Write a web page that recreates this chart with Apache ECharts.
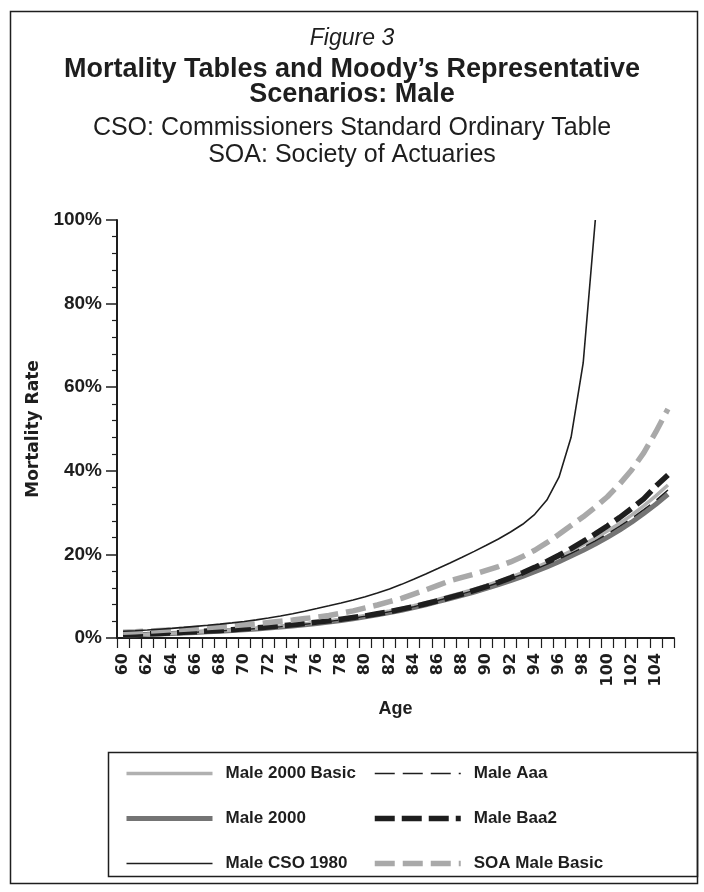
<!DOCTYPE html>
<html>
<head>
<meta charset="utf-8">
<script src="https://cdn.jsdelivr.net/npm/echarts@6/dist/echarts.min.js"></script>
<style>
html,body{margin:0;padding:0;background:#fff;}
#chart{width:704px;height:892px;}
</style>
</head>
<body>
<div id="chart"></div>
<script>
// ---- data (mortality rate, %) ----
const ages = [60,61,62,63,64,65,66,67,68,69,70,71,72,73,74,75,76,77,78,79,80,81,82,83,84,85,86,87,88,89,90,91,92,93,94,95,96,97,98,99,100,101,102,103,104,105];

const male2000Basic = [0.75,0.83,0.92,1.03,1.15,1.28,1.42,1.57,1.73,1.91,2.10,2.31,2.54,2.80,3.08,3.38,3.71,4.07,4.46,4.90,5.38,5.90,6.47,7.08,7.75,8.47,9.25,10.05,10.85,11.70,12.60,13.55,14.55,15.65,16.80,18.05,19.40,20.80,22.30,23.90,25.60,27.40,29.40,31.60,34.00,36.60];

const male2000 = [0.70,0.78,0.87,0.97,1.08,1.20,1.33,1.47,1.62,1.79,1.97,2.17,2.39,2.63,2.89,3.17,3.48,3.82,4.19,4.60,5.05,5.54,6.07,6.65,7.28,7.96,8.70,9.45,10.20,11.00,11.85,12.75,13.70,14.75,15.85,17.00,18.25,19.60,21.00,22.50,24.10,25.80,27.70,29.80,32.00,34.40];

const maleCSO1980 = [1.61,1.75,1.92,2.11,2.31,2.54,2.79,3.04,3.32,3.62,3.95,4.33,4.77,5.26,5.82,6.42,7.05,7.71,8.39,9.10,9.88,10.75,11.73,12.83,14.03,15.30,16.61,17.96,19.33,20.73,22.18,23.70,25.35,27.21,29.59,33.00,38.46,48.02,65.80,100.00];

const maleAaa = [0.72,0.80,0.89,0.99,1.11,1.23,1.37,1.51,1.67,1.84,2.03,2.23,2.46,2.71,2.98,3.27,3.59,3.94,4.32,4.74,5.20,5.71,6.26,6.85,7.50,8.20,8.95,9.75,10.55,11.40,12.25,13.20,14.20,15.25,16.40,17.60,18.90,20.25,21.70,23.25,24.90,26.70,28.60,30.70,32.90,35.40];

const maleBaa2 = [0.80,0.90,1.00,1.10,1.20,1.35,1.50,1.65,1.80,2.00,2.20,2.40,2.65,2.90,3.15,3.45,3.80,4.10,4.50,4.90,5.30,5.80,6.30,6.90,7.50,8.20,8.90,9.70,10.50,11.40,12.30,13.30,14.40,15.60,16.90,18.30,19.80,21.40,23.10,24.90,26.80,28.80,31.00,33.30,36.30,39.00];

const soaMaleBasic = [1.40,1.50,1.65,1.80,1.95,2.10,2.30,2.50,2.70,2.90,3.15,3.40,3.70,4.00,4.30,4.65,5.00,5.40,5.90,6.50,7.20,7.90,8.70,9.50,10.50,11.50,12.60,13.70,14.50,15.30,16.20,17.10,18.20,19.50,21.00,22.80,24.80,26.90,29.00,31.30,33.80,36.80,40.20,44.30,49.30,54.80];

const yTicks = [0,20,40,60,80,100];

const titleLines = ['Figure 3', 'Mortality Tables and Moody\u2019s Representative', 'Scenarios: Male', 'CSO: Commissioners Standard Ordinary Table', 'SOA: Society of Actuaries'];
const legendCol1 = ['Male 2000 Basic', 'Male 2000', 'Male CSO 1980'];
const legendCol2 = ['Male Aaa', 'Male Baa2', 'SOA Male Basic'];

// ---- chart ----
const FONT = '"Liberation Sans", Arial, Helvetica, sans-serif';
const WFONT = '"DejaVu Sans", "Liberation Sans", sans-serif';
const INK = '#1e1e1e';

const chart = echarts.init(document.getElementById('chart'), null, {renderer: 'canvas'});

function titleItem(text, centerY, size, weight, style) {
  const lh = size + 2;
  return {
    text: text, left: 'center', top: centerY - lh / 2, padding: 0,
    textStyle: {fontFamily: FONT, fontSize: size, fontWeight: weight, fontStyle: style || 'normal', color: INK, lineHeight: lh}
  };
}

const lineSeries = (name, data, color, width, dash) => ({
  name: name, type: 'line', data: data, symbol: 'none', showSymbol: false,
  lineStyle: {color: color, width: width, type: dash || 'solid', cap: 'butt'},
  itemStyle: {color: color},
  emphasis: {disabled: true}, animation: false
});

const legendText = {fontFamily: FONT, fontSize: 17, fontWeight: 'bold', color: INK, lineHeight: 17, padding: [0, 0, 0, 8]};

const legendBase = {
  orient: 'vertical', top: 765, itemWidth: 86, itemHeight: 16, itemGap: 28,
  textStyle: legendText, selectedMode: false, padding: 0,
  lineStyle: {width: 'inherit', type: 'inherit'},
  itemStyle: {opacity: 0, borderWidth: 0}
};

const option = {
  backgroundColor: '#fff',
  animation: false,
  title: [
    titleItem(titleLines[0], 39, 23, 'normal', 'italic'),
    titleItem(titleLines[1], 70, 27, 'bold'),
    titleItem(titleLines[2], 95, 27, 'bold'),
    titleItem(titleLines[3], 128, 25, 'normal'),
    titleItem(titleLines[4], 155, 25, 'normal')
  ],
  graphic: [
    {type: 'rect', shape: {x: 10.5, y: 11.5, width: 687, height: 872}, style: {fill: 'none', stroke: INK, lineWidth: 1.5}, z: -1, silent: true},
    {type: 'rect', shape: {x: 108.5, y: 752.5, width: 589, height: 124}, style: {fill: 'none', stroke: INK, lineWidth: 1.5}, z: -1, silent: true}
  ],
  legend: [
    Object.assign({}, legendBase, {data: legendCol1, left: 124}),
    Object.assign({}, legendBase, {data: legendCol2, left: 372})
  ],
  grid: {left: 117, right: 30, top: 220, bottom: 254, containLabel: false},
  xAxis: {
    type: 'category', data: ages, boundaryGap: true,
    name: 'Age', nameLocation: 'middle', nameGap: 62,
    nameTextStyle: {fontFamily: FONT, fontSize: 18, fontWeight: 'bold', color: INK},
    axisLine: {show: true, lineStyle: {color: INK, width: 2}},
    axisTick: {show: true, interval: 0, length: 10, lineStyle: {color: INK, width: 1.2}},
    axisLabel: {interval: 1, rotate: 90, margin: 15, fontFamily: WFONT, fontSize: 16, fontWeight: 'bold', color: INK},
    splitLine: {show: false}
  },
  yAxis: {
    type: 'value', min: yTicks[0], max: yTicks[yTicks.length - 1], interval: 20,
    name: 'Mortality Rate', nameLocation: 'middle', nameGap: 73, nameRotate: 90,
    nameTextStyle: {fontFamily: WFONT, fontSize: 17, fontWeight: 'bold', color: INK},
    axisLine: {show: true, lineStyle: {color: INK, width: 2}},
    axisTick: {show: true, length: 11, lineStyle: {color: INK, width: 1.5}},
    minorTick: {show: true, splitNumber: 5, length: 5, lineStyle: {color: INK, width: 1.2}},
    axisLabel: {formatter: '{value}%', margin: 15, fontFamily: FONT, fontSize: 19, fontWeight: 'bold', color: INK},
    splitLine: {show: false}, minorSplitLine: {show: false}
  },
  series: [
    lineSeries('Male 2000', male2000, '#747474', 5),
    lineSeries('Male 2000 Basic', male2000Basic, '#b0b0b0', 3.5),
    lineSeries('Male Aaa', maleAaa, INK, 1.5, [20, 8]),
    lineSeries('Male Baa2', maleBaa2, INK, 5.5, [20, 7]),
    lineSeries('SOA Male Basic', soaMaleBasic, '#a9a9a9', 5.5, [20, 8]),
    lineSeries('Male CSO 1980', maleCSO1980, INK, 1.6)
  ]
};
chart.setOption(option);
</script>
</body>
</html>
